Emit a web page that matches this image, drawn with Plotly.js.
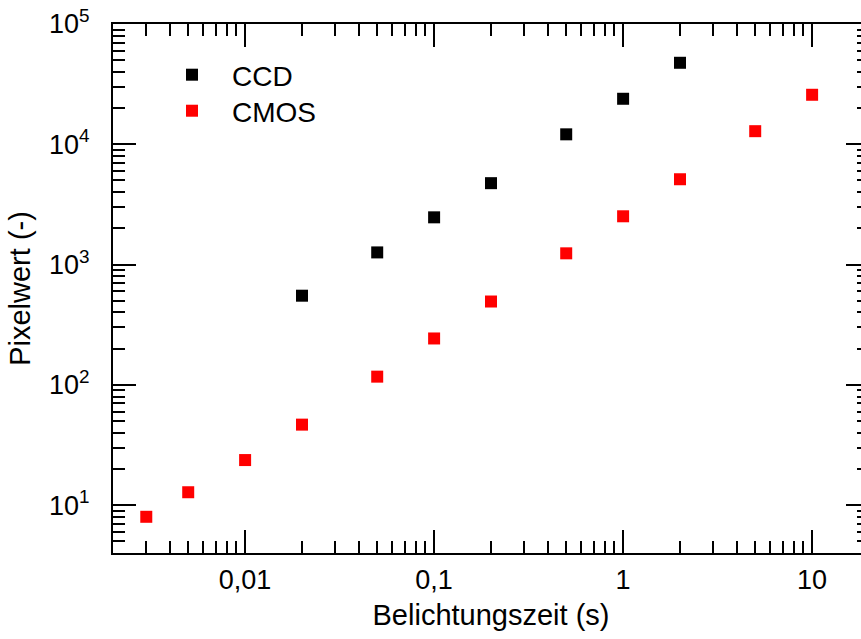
<!DOCTYPE html>
<html>
<head>
<meta charset="utf-8">
<script src="https://cdn.plot.ly/plotly-3.0.1.min.js"></script>
<style>
html, body { margin: 0; padding: 0; overflow: hidden; background: #fff; }
#chart { width: 872px; height: 639px; }
</style>
</head>
<body>
<div id="chart"></div>
<script>
// Data
const ccdTime = [0.02, 0.05, 0.1, 0.2, 0.5, 1, 2];
const ccdValue = [551, 1262, 2470, 4750, 12100, 23900, 47600];

const cmosTime = [0.003, 0.005, 0.01, 0.02, 0.05, 0.1, 0.2, 0.5, 1, 2, 5, 10];
const cmosValue = [8.0, 12.8, 23.7, 46.7, 117, 243, 493, 1240, 2520, 5120, 12850, 25800];

const xTickVals = [0.01, 0.1, 1, 10];
const xTickText = ['0,01', '0,1', '1', '10'];
const yTickVals = [10, 100, 1000, 10000, 100000];
const yTickText = ['10<sup>1</sup>', '10<sup>2</sup>', '10<sup>3</sup>', '10<sup>4</sup>', '10<sup>5</sup>'];

const FONT = 'Liberation Sans, Arial, sans-serif';

const traces = [
  {
    x: ccdTime, y: ccdValue, name: 'CCD', type: 'scatter', mode: 'markers', legend: 'legend',
    marker: { symbol: 'square', size: 12, color: '#000000', line: { width: 0 } }
  },
  {
    x: cmosTime, y: cmosValue, name: 'CMOS', type: 'scatter', mode: 'markers', legend: 'legend2',
    marker: { symbol: 'square', size: 12, color: '#ff0000', line: { width: 0 } }
  }
];

const axisCommon = {
  type: 'log',
  showline: true, linecolor: '#000', linewidth: 2,
  mirror: 'ticks',
  ticks: 'inside', ticklen: 23, tickwidth: 2, tickcolor: '#000',
  showgrid: false, zeroline: false,
  tickmode: 'array',
  tickfont: { family: FONT, size: 27, color: '#000' },
  minor: { ticks: 'inside', ticklen: 12, tickwidth: 2, tickcolor: '#000', dtick: 'D1', showgrid: false }
};

const legendCommon = {
  xanchor: 'left', yanchor: 'middle',
  font: { family: FONT, size: 28, color: '#000' },
  bgcolor: 'rgba(0,0,0,0)', borderwidth: 0,
  itemwidth: 70, tracegroupgap: 0
};

const layout = {
  width: 872, height: 639,
  margin: { l: 113, r: 3, t: 24, b: 86 },
  paper_bgcolor: '#fff', plot_bgcolor: '#fff',
  font: { family: FONT, color: '#000' },
  showlegend: true,
  legend: Object.assign({}, legendCommon, { x: 0.0516, y: 0.9036 }),
  legend2: Object.assign({}, legendCommon, { x: 0.0516, y: 0.8355 }),
  xaxis: Object.assign({}, axisCommon, {
    range: [Math.log10(0.002), Math.log10(20)],
    tickvals: xTickVals, ticktext: xTickText,
    ticklabelstandoff: 2,
    title: { text: 'Belichtungszeit (s)', font: { family: FONT, size: 29, color: '#000' }, standoff: 10 }
  }),
  yaxis: Object.assign({}, axisCommon, {
    range: [Math.log10(4), 5],
    tickvals: yTickVals, ticktext: yTickText,
    ticklabelstandoff: 16,
    title: { text: 'Pixelwert (-)', font: { family: FONT, size: 29, color: '#000' }, standoff: 10 }
  })
};

Plotly.newPlot('chart', traces, layout, { staticPlot: true, displayModeBar: false });
</script>
</body>
</html>
